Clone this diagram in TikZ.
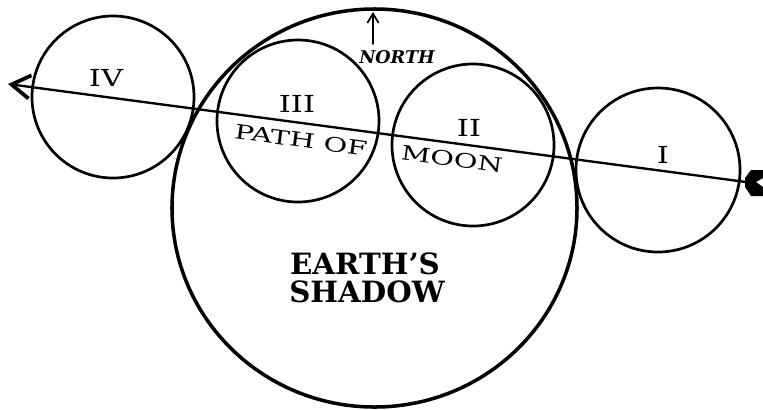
\documentclass[tikz,border=0pt]{standalone}
\usepackage{fontspec}
\setmainfont{DejaVu Serif}
\newfontfamily\pathfont[FakeStretch=1.45]{DejaVu Serif}
\newfontfamily\numfont[FakeStretch=1.3]{DejaVu Serif}
\usetikzlibrary{arrows.meta,shapes.geometric}
\begin{document}
\begin{tikzpicture}[x=0.03cm, y=-0.03cm, line cap=round,
    moon/.style={draw, circle, line width=2.3pt, minimum size=4.86cm, inner sep=0pt},
    numeral/.style={font=\numfont\fontsize{20}{20}\selectfont, inner sep=0pt},
    pathlabel/.style={font=\pathfont\fontsize{17}{18}\selectfont, inner sep=0pt, rotate=-7.6},
    shadowlabel/.style={font=\bfseries\fontsize{25}{25}\selectfont, inner sep=0pt}]
        \useasboundingbox (0,0) rectangle (763,409);

        % ---- the earth's shadow ----
        \node[draw, ellipse, line width=3pt, minimum width=12.15cm, minimum height=11.94cm,
              inner sep=0pt] (shadow) at (374.5,208) {};
        \node[shadowlabel] (earths) at (365,264) {EARTH'S};
        \node[shadowlabel] (shadowword) at (367,292) {SHADOW};

        % ---- the moon at its four places ----
        \node[moon] (moonIV) at (113,97) {};
        \node[moon] (moonIII) at (298,121) {};
        \node[moon] (moonII) at (473,145) {};
        \node[moon, minimum size=4.92cm] (moonI) at (658,170) {};

        % ---- path of the moon ----
        \coordinate (west) at (8,84);
        \coordinate (east) at (746,182);
        \draw[line width=2pt,
              {Straight Barb[length=5.6mm, width=7mm, line width=3.2pt]}-] (west) -- (east);
        % tail feather at the east end
        \fill (745,178) -- (751,170) -- (763,170) -- (763,178) -- (756,182) -- (763,187)
              -- (763,196) -- (751,196) -- (745,187) -- cycle;

        % ---- north ----
        \coordinate (northfoot) at (373,44);
        \coordinate (northtip) at (373,12);
        \draw[line width=1.4pt, -{Straight Barb[length=2.8mm, width=3.4mm, line width=1.5pt]}]
              (northfoot) -- (northtip);
        \node[font=\bfseries\itshape\fontsize{15}{15}\selectfont, inner sep=0pt]
              (north) at (397,57) {NORTH};

        % ---- labels ----
        \node[numeral] (numIV) at (106,78) {IV};
        \node[numeral] (numIII) at (297,104) {III};
        \node[numeral] (numII) at (469,128) {II};
        \node[numeral] (numI) at (663,155) {I};
        \node[pathlabel] (pathof) at (301,140) {PATH OF};
        \node[pathlabel] (moonword) at (452,159) {MOON};
    \end{tikzpicture}
\end{document}
